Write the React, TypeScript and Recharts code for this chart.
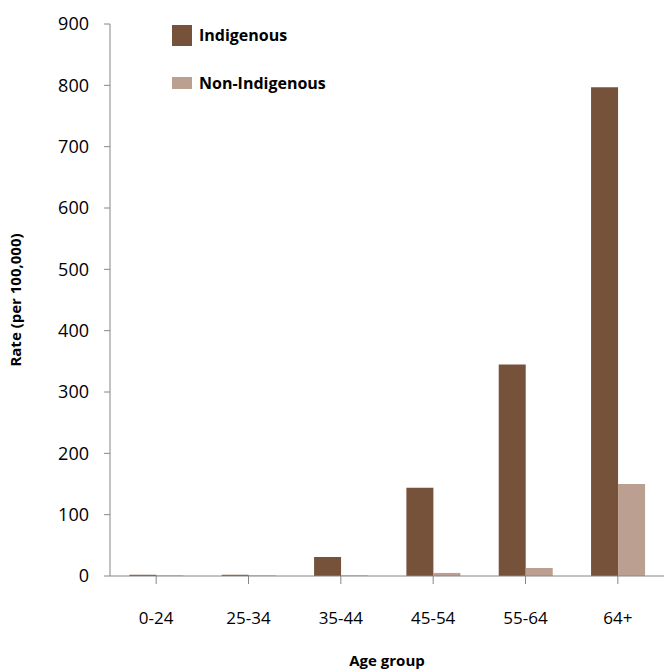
import { BarChart, Bar, XAxis, YAxis } from 'recharts';

const ageGroups = ['0-24', '25-34', '35-44', '45-54', '55-64', '64+'];
const indigenous = [2, 2, 31, 144, 345, 797];
const nonIndigenous = [1, 1, 1, 5, 13, 150];
const yTicks = [0, 100, 200, 300, 400, 500, 600, 700, 800, 900];

const BROWN = '#77523B';
const TAN = '#BBA091';
const AXIS = '#868686';
const FONT = '"Open Sans", sans-serif';

const data = ageGroups.map((g, i) => ({
  group: g,
  indigenous: indigenous[i],
  nonIndigenous: nonIndigenous[i],
}));

// legend drawn as a plain overlay so it does not eat into the plot area
function LegendBox() {
  return (
    <div
      style={{
        position: 'absolute',
        left: 172,
        top: 24,
        fontFamily: FONT,
        fontWeight: 700,
        fontSize: 16,
        color: '#000',
      }}
    >
      <div style={{ display: 'flex', alignItems: 'center', height: 22 }}>
        <span style={{ width: 20, height: 21, background: BROWN, marginRight: 7 }} />
        Indigenous
      </div>
      <div style={{ display: 'flex', alignItems: 'center', height: 22, marginTop: 26 }}>
        <span style={{ width: 20, height: 12, background: TAN, marginRight: 7 }} />
        Non-Indigenous
      </div>
    </div>
  );
}

export default function App() {
  return (
    <div style={{ width: 664, height: 671, position: 'relative' }}>
      <style>{`body{margin:0}`}</style>
      <BarChart
        width={664}
        height={671}
        data={data}
        margin={{ top: 24, right: 0, left: 0, bottom: 0 }}
        barGap={0}
        barCategoryGap="21%"
      >
        <XAxis
          dataKey="group"
          height={95}
          stroke={AXIS}
          tickLine={{ stroke: AXIS }}
          tickSize={8}
          tick={{ fill: '#000', fontSize: 17, fontFamily: FONT }}
          tickMargin={28}
          interval={0}
          label={{
            value: 'Age group',
            position: 'insideBottom',
            offset: 5,
            fill: '#000',
            fontSize: 15,
            fontWeight: 700,
            fontFamily: FONT,
          }}
        />
        <YAxis
          width={110}
          domain={[0, 900]}
          ticks={yTicks}
          stroke={AXIS}
          tickSize={6}
          tickMargin={15}
          tick={{ fill: '#000', fontSize: 18, fontFamily: FONT }}
          label={{
            value: 'Rate (per 100,000)',
            angle: -90,
            position: 'insideLeft',
            offset: 16,
            fill: '#000',
            fontSize: 15,
            fontWeight: 700,
            fontFamily: FONT,
            style: { textAnchor: 'middle' },
          }}
        />
        <Bar dataKey="indigenous" name="Indigenous" fill={BROWN} isAnimationActive={false} />
        <Bar dataKey="nonIndigenous" name="Non-Indigenous" fill={TAN} isAnimationActive={false} />
      </BarChart>
      <LegendBox />
    </div>
  );
}
